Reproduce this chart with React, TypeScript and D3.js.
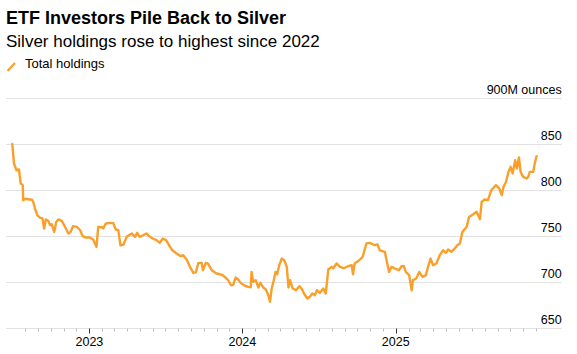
import React from "react";
import * as d3 from "d3";

const TITLE = "ETF Investors Pile Back to Silver";
const SUBTITLE = "Silver holdings rose to highest since 2022";
const LEGEND_LABEL = "Total holdings";
const UNIT_LABEL = "M ounces";

const dates: string[] = [
  "2022-07-01","2022-07-05","2022-07-11","2022-07-17","2022-07-19","2022-07-21","2022-07-26","2022-07-27",
  "2022-08-01","2022-08-17","2022-08-20","2022-08-24","2022-08-30","2022-09-05","2022-09-11","2022-09-15",
  "2022-09-19","2022-09-25","2022-09-29","2022-10-03","2022-10-09","2022-10-14","2022-10-19","2022-10-27",
  "2022-11-04","2022-11-12","2022-11-17","2022-11-23","2022-12-02","2022-12-10","2022-12-16","2022-12-24",
  "2023-01-02","2023-01-10","2023-01-18","2023-01-22","2023-01-30","2023-02-03","2023-02-09","2023-02-19",
  "2023-02-27","2023-03-05","2023-03-11","2023-03-16","2023-03-23","2023-03-31","2023-04-12","2023-04-20",
  "2023-04-25","2023-05-01","2023-05-09","2023-05-17","2023-05-24","2023-06-01","2023-06-10","2023-06-18",
  "2023-06-25","2023-07-03","2023-07-10","2023-07-18","2023-07-28","2023-08-07","2023-08-13","2023-08-21",
  "2023-08-29","2023-09-06","2023-09-12","2023-09-18","2023-09-26","2023-09-29","2023-10-06","2023-10-11",
  "2023-10-20","2023-10-26","2023-11-01","2023-11-08","2023-11-15","2023-11-20","2023-11-28","2023-12-05",
  "2023-12-10","2023-12-16","2023-12-22","2023-12-28","2024-01-05","2024-01-15","2024-01-21","2024-01-23",
  "2024-01-27","2024-02-02","2024-02-08","2024-02-13","2024-02-20","2024-02-26","2024-03-03","2024-03-07",
  "2024-03-11","2024-03-16","2024-03-20","2024-03-24","2024-03-29","2024-04-04","2024-04-10","2024-04-16",
  "2024-04-20","2024-04-24","2024-04-30","2024-05-08","2024-05-16","2024-05-22","2024-05-27","2024-06-04",
  "2024-06-10","2024-06-16","2024-06-22","2024-06-27","2024-07-04","2024-07-12","2024-07-18","2024-07-24",
  "2024-08-01","2024-08-05","2024-08-13","2024-08-21","2024-08-30","2024-09-09","2024-09-18","2024-09-21",
  "2024-09-25","2024-10-06","2024-10-14","2024-10-23","2024-10-31","2024-11-12","2024-11-18","2024-11-24",
  "2024-12-06","2024-12-11","2024-12-16","2024-12-22","2024-12-30","2025-01-09","2025-01-15","2025-01-20",
  "2025-01-25","2025-02-02","2025-02-08","2025-02-11","2025-02-19","2025-02-26","2025-03-06","2025-03-14",
  "2025-03-19","2025-03-25","2025-03-31","2025-04-08","2025-04-16","2025-04-24","2025-05-01","2025-05-06",
  "2025-05-14","2025-05-22","2025-05-28","2025-06-03","2025-06-09","2025-06-19","2025-06-25","2025-07-05",
  "2025-07-13","2025-07-21","2025-07-25","2025-08-01","2025-08-09","2025-08-17","2025-08-28","2025-09-05",
  "2025-09-11","2025-09-15","2025-09-21","2025-09-27","2025-10-02","2025-10-07","2025-10-13","2025-10-17",
  "2025-10-22","2025-10-26","2025-11-01","2025-11-09","2025-11-13","2025-11-17","2025-11-25","2025-11-29",
  "2025-12-03",
];

const holdings: number[] = [
  850.5, 829.5, 822, 822.8, 814.8, 807.6, 805.8, 789.5,
  791, 790, 787.6, 780.4, 773, 770.6, 769.6, 758.7,
  768.5, 767, 762.3, 763.5, 755, 765.9, 768.5, 767,
  760.4, 753.3, 755, 761.2, 760.4, 756.8, 750.3, 748.9,
  748.9, 746.7, 738.7, 760.4, 760.4, 758.7, 764.1, 764.8,
  764.5, 757.6, 757, 740.5, 741, 749.6, 753.3, 749.6,
  754, 749.6, 751.4, 753.3, 750.3, 747.8, 746, 743,
  747.8, 746, 740.5, 735, 731.5, 728.6, 729.7, 725,
  717, 710.4, 711, 721.3, 721.3, 713.4, 721.3, 720.5,
  713.4, 711.5, 709.8, 709, 708, 706, 702.5, 697,
  697.5, 705.4, 703.3, 699.6, 697, 695.2, 694.8, 711.5,
  700.7, 702.5, 694.6, 699.6, 694.6, 692.4, 686.2, 679,
  693.5, 702.5, 711.5, 709, 718.8, 726, 724.2, 717,
  694.6, 702.5, 693.5, 691.6, 696, 693, 688, 682.6,
  684.4, 688, 686.2, 691.6, 688.7, 693.5, 688, 714.1,
  717, 715.5, 720.7, 717, 715.5, 717.7, 718.8, 709,
  720.7, 724.2, 727.8, 742.4, 743, 740.5, 741.5, 735,
  733.3, 722.4, 711.5, 717, 715.2, 713.4, 717.7, 718,
  711.5, 708, 691.6, 702.5, 704.3, 711.5, 706.1, 708,
  717, 726, 718.8, 720.7, 729.7, 735, 732.2, 735.9,
  733.3, 737, 740.5, 742.4, 755, 760.4, 771.3, 774.2,
  776.8, 768.8, 787.6, 790.2, 789.5, 800.3, 805.8, 802.2,
  794.9, 803.9, 809.3, 820.2, 825.7, 818.5, 832.9, 823.9,
  835.9, 820.2, 814.8, 813, 814.8, 820.2, 820.2, 830,
  837.3,
];

const yTicks: number[] = [650, 700, 750, 800, 850, 900];
const yearTicks: string[] = ["2023-01-01", "2024-01-01", "2025-01-01"];
const xDomain: string[] = ["2022-06-16", "2026-02-01"];
const monthTickRange: string[] = ["2022-08-01", "2025-12-01"];

const W = 577;
const H = 354;
const FONT = "'Liberation Sans', Arial, Helvetica, sans-serif";
const ORANGE = "#f9a02c";

export default function App() {
  const parse = d3.utcParse("%Y-%m-%d");
  const data = dates.map((d, i) => ({ date: parse(d) as Date, value: holdings[i] }));

  const left = 6;
  const right = 561.7;
  const x = d3.scaleUtc().domain(xDomain.map((d) => parse(d) as Date)).range([left, right]);
  const y = d3.scaleLinear().domain([650, 900]).range([328.5, 98.5]);

  const line = d3
    .line<{ date: Date; value: number }>()
    .x((d) => x(d.date))
    .y((d) => y(d.value));

  const monthTicks = d3.utcMonth.range(
    parse(monthTickRange[0]) as Date,
    d3.utcDay.offset(parse(monthTickRange[1]) as Date, 1)
  );
  const yearSet = new Set(yearTicks);
  const fmt = d3.utcFormat("%Y-%m-%d");

  return (
    <div style={{ position: "absolute", left: 0, top: 0, width: W, height: H, background: "#fff" }}>
      <svg width={W} height={H} style={{ display: "block", fontFamily: FONT }}>
        <text x={6} y={24} fontSize={18} fontWeight="bold" fill="#000">{TITLE}</text>
        <text x={6} y={47} fontSize={17} fill="#000">{SUBTITLE}</text>
        <line x1={7.5} y1={71} x2={15} y2={63} stroke={ORANGE} strokeWidth={2.2} />
        <text x={25} y={68} fontSize={13} fill="#000">{LEGEND_LABEL}</text>

        {yTicks.map((t) => (
          <g key={t}>
            <line x1={left} x2={right} y1={y(t)} y2={y(t)} stroke="#e2e2e2" strokeWidth={1} />
            <text x={right} y={y(t) - 5} textAnchor="end" fontSize={12.5} fill="#000">
              {t === 900 ? `${t}${UNIT_LABEL}` : t}
            </text>
          </g>
        ))}

        {monthTicks.map((m) => {
          const key = fmt(m);
          const isYear = yearSet.has(key);
          const xx = Math.round(x(m)) + 0.5;
          return (
            <g key={key}>
              <line
                x1={xx}
                x2={xx}
                y1={y(650)}
                y2={y(650) + (isYear ? 5 : 3)}
                stroke={isYear ? "#333" : "#bdbdbd"}
                strokeWidth={1}
              />
              {isYear && (
                <text x={x(m)} y={346} textAnchor="middle" fontSize={12.5} fill="#000">
                  {m.getUTCFullYear()}
                </text>
              )}
            </g>
          );
        })}

        <path
          d={line(data) || ""}
          fill="none"
          stroke={ORANGE}
          strokeWidth={2.4}
          strokeLinejoin="round"
          strokeLinecap="round"
        />
      </svg>
    </div>
  );
}
